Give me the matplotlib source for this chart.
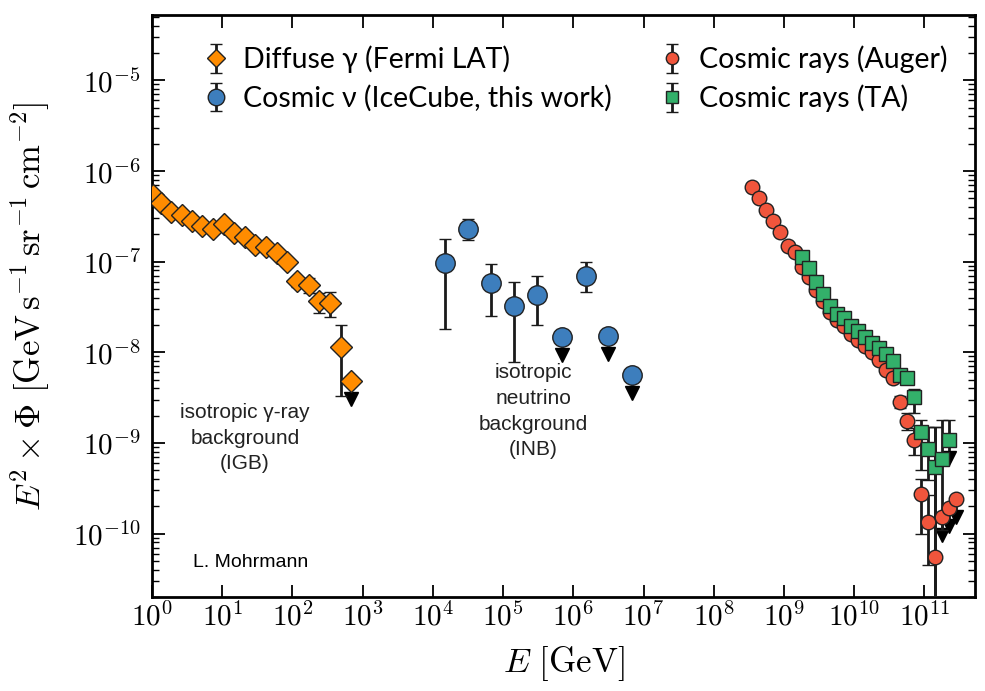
import numpy as np
import matplotlib
matplotlib.use("Agg")
import matplotlib.pyplot as plt
from matplotlib.ticker import FuncFormatter, LogLocator, NullLocator, NullFormatter

plt.rcParams['mathtext.fontset'] = 'cm'
plt.rcParams['font.family'] = ['Lato', 'DejaVu Sans']

# Fermi LAT diffuse gamma-ray background
fermi_E = [1.03, 1.34, 1.87, 2.67, 3.71, 5.16, 7.4, 10.6, 14.7, 21.1,
           29.3, 42.0, 60.0, 84.0, 116.0, 172.0, 239.0, 343.0, 492.0, 684.0]
fermi_F = [5.4e-7, 4.4e-7, 3.5e-7, 3.25e-7, 2.79e-7, 2.45e-7, 2.28e-7, 2.58e-7,
           2.06e-7, 1.86e-7, 1.52e-7, 1.44e-7, 1.24e-7, 9.85e-8, 6.08e-8,
           5.5e-8, 3.66e-8, 3.48e-8, 1.14e-8, 4.8e-9]
fermi_hi = [5.4e-7, 4.4e-7, 3.5e-7, 3.25e-7, 2.79e-7, 2.45e-7, 2.28e-7, 2.58e-7,
            2.06e-7, 1.86e-7, 1.52e-7, 1.44e-7, 1.24e-7, 9.85e-8, 6.73e-8,
            6.56e-8, 4.48e-8, 4.60e-8, 1.99e-8, 4.8e-9]
fermi_lo = [5.4e-7, 4.4e-7, 3.5e-7, 3.25e-7, 2.79e-7, 2.45e-7, 2.28e-7, 2.58e-7,
            2.06e-7, 1.86e-7, 1.52e-7, 1.44e-7, 1.24e-7, 9.85e-8, 5.22e-8,
            4.48e-8, 2.70e-8, 2.44e-8, 3.28e-9, 4.8e-9]
fermi_ul = [False] * 19 + [True]

# IceCube cosmic neutrinos
nu_E = [1.49e4, 3.17e4, 6.74e4, 1.43e5, 3.05e5, 6.9e5, 1.52e6, 3.13e6, 6.9e6]
nu_F = [9.6e-8, 2.28e-7, 5.78e-8, 3.22e-8, 4.26e-8, 1.47e-8, 6.9e-8, 1.51e-8, 5.6e-9]
nu_hi = [1.77e-7, 2.93e-7, 9.36e-8, 5.93e-8, 6.9e-8, 1.47e-8, 9.85e-8, 1.51e-8, 5.6e-9]
nu_lo = [1.8e-8, 1.72e-7, 2.5e-8, 7.8e-9, 1.99e-8, 1.47e-8, 4.6e-8, 1.51e-8, 5.6e-9]
nu_ul = [False, False, False, False, False, True, False, True, True]

# Auger cosmic-ray spectrum (log10 of energy in GeV)
auger_logE = [8.55, 8.65, 8.75, 8.85, 8.95, 9.05, 9.15, 9.25, 9.35, 9.45,
              9.55, 9.65, 9.75, 9.85, 9.95, 10.05, 10.15, 10.25, 10.35, 10.45,
              10.55, 10.65, 10.75, 10.85, 10.95, 11.05, 11.15, 11.25, 11.35, 11.45]
auger_F = [6.6e-7, 5.0e-7, 3.69e-7, 2.79e-7, 2.11e-7, 1.48e-7, 1.27e-7, 8.7e-8,
           6.7e-8, 4.84e-8, 3.66e-8, 2.77e-8, 2.26e-8, 1.94e-8, 1.58e-8, 1.36e-8,
           1.17e-8, 1.0e-8, 8.2e-9, 6.35e-9, 5.18e-9, 2.82e-9, 1.74e-9, 1.07e-9,
           2.72e-10, 1.34e-10, 5.5e-11, 1.52e-10, 1.91e-10, 2.40e-10]
auger_hi = auger_F[:21] + [3.28e-9, 2.13e-9, 1.45e-9, 4.0e-10, 2.65e-10, 1.49e-9,
                           1.52e-10, 1.91e-10, 2.40e-10]
auger_lo = auger_F[:21] + [2.42e-9, 1.38e-9, 7.3e-10, 9.9e-11, 4.5e-11, 1.0e-11,
                           1.52e-10, 1.91e-10, 2.40e-10]
auger_ul = [False] * 27 + [True, True, True]

# Telescope Array cosmic-ray spectrum
ta_logE = [9.25, 9.35, 9.45, 9.55, 9.65, 9.75, 9.85, 9.95, 10.05, 10.15, 10.25,
           10.35, 10.45, 10.55, 10.65, 10.75, 10.85, 10.95, 11.05, 11.15, 11.25, 11.35]
ta_F = [1.12e-7, 8.45e-8, 5.93e-8, 4.37e-8, 3.22e-8, 2.63e-8, 2.38e-8, 1.94e-8,
        1.71e-8, 1.47e-8, 1.26e-8, 1.11e-8, 9.5e-9, 8.0e-9, 5.6e-9, 5.2e-9,
        3.2e-9, 1.32e-9, 8.55e-10, 5.4e-10, 6.6e-10, 1.07e-9]
ta_hi = ta_F[:16] + [3.92e-9, 1.78e-9, 1.49e-9, 1.49e-9, 1.78e-9, 1.78e-9]
ta_lo = ta_F[:16] + [2.13e-9, 5.0e-10, 3.9e-10, 1.85e-11, 1.09e-10, 1.07e-9]
ta_ul = [False] * 21 + [True]


def draw(ax, E, F, lo, hi, ul, color, marker, ms, label):
    E = np.asarray(E, float)
    F = np.asarray(F, float)
    yerr = [F - np.asarray(lo), np.asarray(hi) - F]
    h = ax.errorbar(E, F, yerr=yerr, fmt=marker, color=color, mec='#222222',
                    mew=1.0, ms=ms, ecolor='#1a1a1a', elinewidth=2.0,
                    capsize=4, capthick=2.0, label=label, zorder=3)
    # upper limits: short line plus a downward arrowhead
    for e, f, u in zip(E, F, ul):
        if u:
            tip = f / 10 ** 0.2
            ax.plot([e, e], [f, tip], color='#1a1a1a', lw=2.0, zorder=2)
            ax.plot(e, tip, marker='v', color='black', ms=10, zorder=2)
    return h


fig = plt.figure(figsize=(9.85, 6.91), dpi=100)
ax = fig.add_axes([152 / 985, 1 - 597 / 691, 823 / 985, 582 / 691])

h1 = draw(ax, fermi_E, fermi_F, fermi_lo, fermi_hi, fermi_ul,
          '#ff8c00', 'D', 11, 'Diffuse γ (Fermi LAT)')
h2 = draw(ax, nu_E, nu_F, nu_lo, nu_hi, nu_ul,
          '#3d7ebd', 'o', 14, 'Cosmic ν (IceCube, this work)')
h3 = draw(ax, 10 ** np.array(auger_logE), auger_F, auger_lo, auger_hi, auger_ul,
          '#f0553c', 'o', 10.5, 'Cosmic rays (Auger)')
h4 = draw(ax, 10 ** np.array(ta_logE), ta_F, ta_lo, ta_hi, ta_ul,
          '#33b06a', 's', 10, 'Cosmic rays (TA)')

ax.set_xscale('log')
ax.set_yscale('log')
ax.set_xlim(1, 10 ** 11.72)
ax.set_ylim(10 ** -10.70, 10 ** -4.28)
ax.set_xticks([10.0 ** k for k in range(12)])
ax.set_yticks([10.0 ** k for k in range(-10, -4)])
decade = FuncFormatter(lambda v, pos: r'$10^{%d}$' % int(round(np.log10(v))))
ax.xaxis.set_major_formatter(decade)
ax.yaxis.set_major_formatter(decade)
ax.xaxis.set_minor_locator(NullLocator())
ax.yaxis.set_minor_locator(LogLocator(base=10, subs=np.arange(2, 10), numticks=20))
ax.yaxis.set_minor_formatter(NullFormatter())

ax.tick_params(which='both', direction='in', top=True, right=True, labelsize=21)
ax.tick_params(which='major', length=9, width=1.3)
ax.tick_params(axis='x', which='major', pad=3)
ax.tick_params(axis='y', which='major', pad=8)
ax.tick_params(which='minor', length=5, width=1.0)
for s in ax.spines.values():
    s.set_linewidth(2.0)

ax.set_xlabel(r'$E\ [\mathrm{GeV}]$', fontsize=25, labelpad=10)
ax.set_ylabel(r'$E^2 \times \Phi\ [\mathrm{GeV\,s^{-1}\,sr^{-1}\,cm^{-2}}]$',
              fontsize=25)
ax.yaxis.set_label_coords(-0.122, 0.5)

leg_kw = dict(loc='upper left', frameon=False, fontsize=20.5, handlelength=1.0,
              handletextpad=0.45, labelspacing=0.4, borderpad=0.0,
              borderaxespad=0.0, numpoints=1, markerscale=0.85)
leg1 = ax.legend(handles=[h1, h2], bbox_to_anchor=(0.06, 0.947), **leg_kw)
ax.add_artist(leg1)
ax.legend(handles=[h3, h4], bbox_to_anchor=(0.615, 0.947), **leg_kw)

ax.text(21, 1.13e-9, 'isotropic γ-ray\nbackground\n(IGB)', ha='center', va='center',
        fontsize=15, family='Liberation Sans', linespacing=1.45, color='#222222')
ax.text(2.7e5, 2.24e-9, 'isotropic\nneutrino\nbackground\n(INB)', ha='center', va='center',
        fontsize=15, family='Liberation Sans', linespacing=1.45, color='#222222')
ax.text(3.84, 4.85e-11, 'L. Mohrmann', ha='left', va='center',
        fontsize=14, family='Liberation Sans', color='black')

fig.savefig('out.png', dpi=100)
